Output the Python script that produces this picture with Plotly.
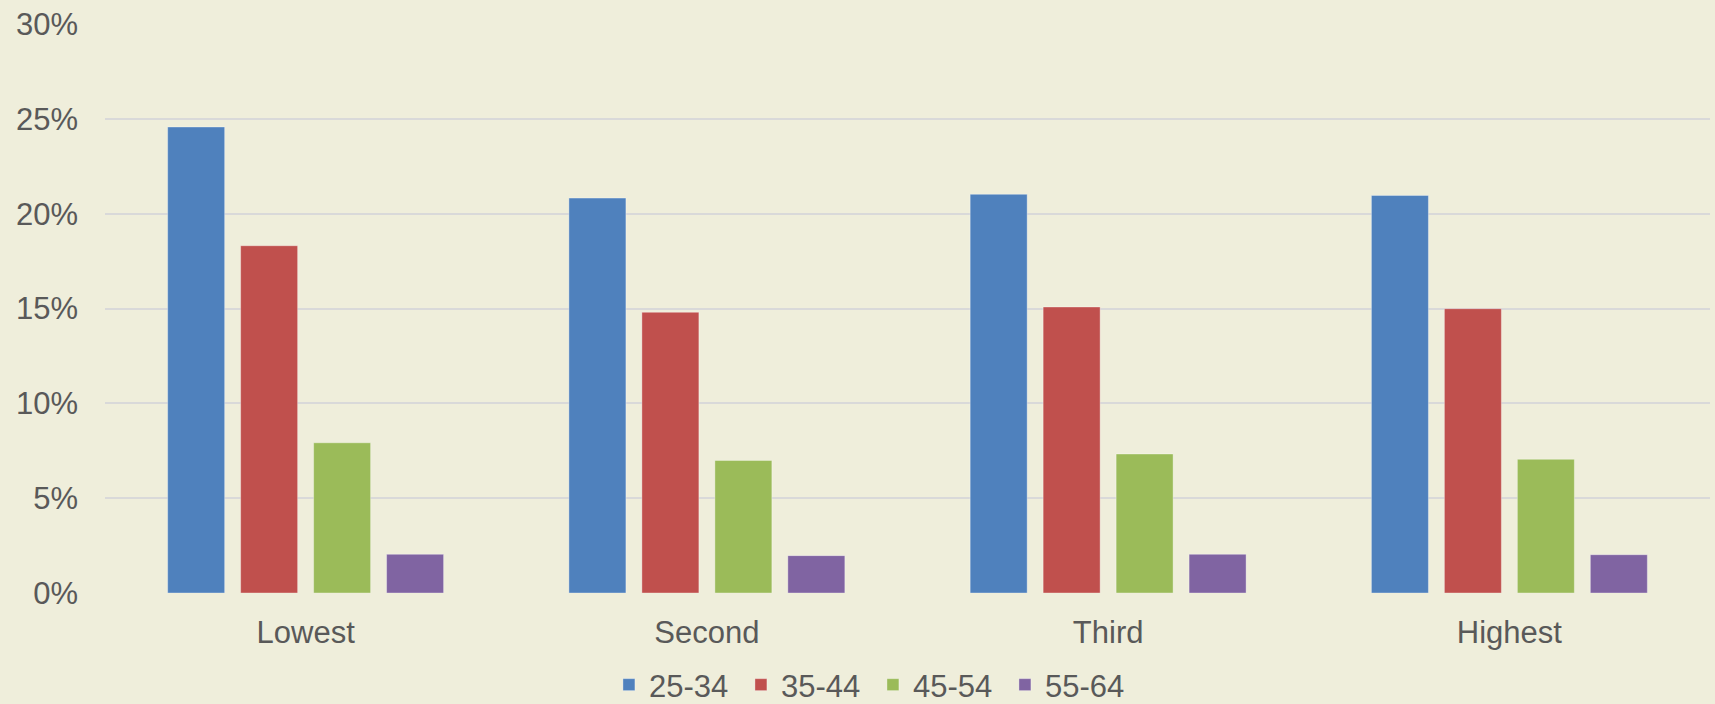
import plotly.graph_objects as go

categories = ["Lowest", "Second", "Third", "Highest"]
series_names = ["25-34", "35-44", "45-54", "55-64"]
v_25_34 = [24.57, 20.82, 21.02, 20.96]
v_35_44 = [18.31, 14.80, 15.08, 14.99]
v_45_54 = [7.92, 6.99, 7.33, 7.05]
v_55_64 = [2.04, 1.97, 2.04, 2.02]
y_ticks = [0, 5, 10, 15, 20, 25, 30]
y_tick_labels = ["0%", "5%", "10%", "15%", "20%", "25%", "30%"]

series_values = [v_25_34, v_35_44, v_45_54, v_55_64]
colors = ["#4F81BD", "#C0504D", "#9BBB59", "#8064A2"]

BG = "#EFEEDB"
TXT = "#595959"
FONT = "Liberation Sans, Arial, sans-serif"

fig = go.Figure()
for name, vals, col in zip(series_names, series_values, colors):
    fig.add_trace(go.Bar(
        x=categories, y=vals, name=name,
        marker=dict(color=col, line=dict(color="rgba(255,255,255,0.35)", width=1)),
    ))

fig.update_layout(
    width=1715, height=704,
    margin=dict(l=105, r=5, t=24, b=111),
    paper_bgcolor=BG, plot_bgcolor=BG,
    barmode="group", bargap=0.2725, bargroupgap=0.219,
    font=dict(family=FONT, size=31, color=TXT),
    showlegend=True,
    legend=dict(
        orientation="h", xref="container", yref="container",
        x=0.509, xanchor="center", y=0.027, yanchor="middle",
        font=dict(family=FONT, size=31, color=TXT),
        bgcolor="rgba(0,0,0,0)", itemwidth=30, tracegroupgap=0,
        entrywidth=87, entrywidthmode="pixels",
    ),
    xaxis=dict(
        showgrid=False, showline=False, zeroline=False,
        ticks="", tickfont=dict(size=31, color=TXT),
        ticklabelstandoff=18,
    ),
    yaxis=dict(
        range=[0, 30], tickvals=y_ticks, ticktext=y_tick_labels,
        showgrid=True, gridcolor="#D9D9D9", gridwidth=1.5,
        zeroline=False, showline=False, ticks="",
        tickfont=dict(size=31, color=TXT),
        ticklabelstandoff=26,
    ),
)

fig.write_html("out.html", config={"displayModeBar": False},
               post_script="document.body.style.margin='0';")
